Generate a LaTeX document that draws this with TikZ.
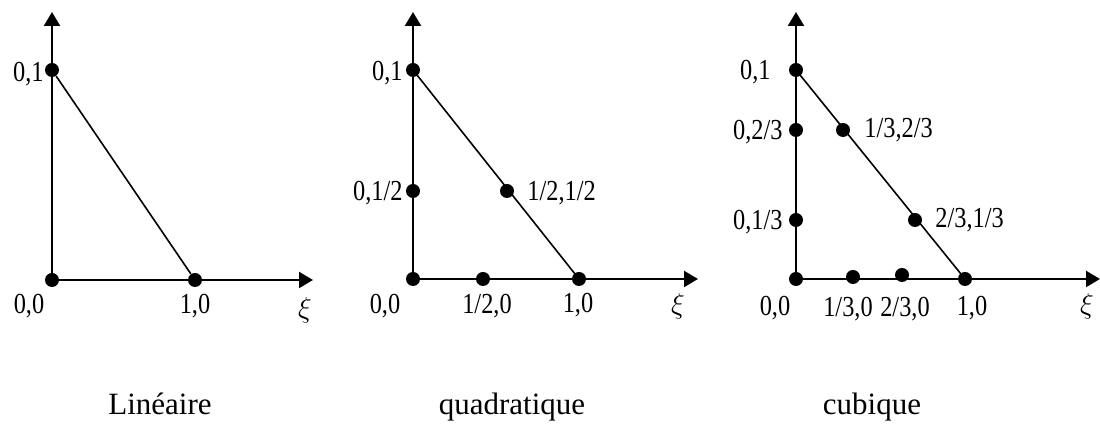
\documentclass[tikz,border=0pt]{standalone}
\usepackage{fontspec}
\setmainfont{Liberation Serif}
\newfontfamily\lblfont[FakeStretch=0.84]{Liberation Serif}
\usetikzlibrary{arrows.meta}
\begin{document}
\begin{tikzpicture}[x=0.5pt,y=-0.5pt,
  axis/.style={line width=1.1pt,-{Triangle[length=7pt,width=8pt]}},
  edge/.style={line width=0.8pt},
  dot/.style={circle,fill=black,inner sep=0pt,minimum size=7pt},
  lbl/.style={font=\lblfont\fontsize{14.5}{16}\selectfont,inner sep=0pt},
  title/.style={font=\fontsize{15.5}{18}\selectfont,inner sep=0pt,anchor=base}]
\useasboundingbox (0,0) rectangle (1100,426);
% ---------- Linear ----------
\node[dot] (a00) at (52,280) {};
\node[dot] (a01) at (52,70) {};
\node[dot] (a10) at (195,280) {};
\coordinate (ayt) at (52,12);
\coordinate (axt) at (313,280);
\draw[axis] (a00.center) -- (ayt);
\draw[axis] (a00.center) -- (axt);
\draw[edge] (a01) -- (a10);
\node[lbl,anchor=base east] (la01) at (44,82) {0,1};
\node[lbl,anchor=base] (la00) at (29,314) {0,0};
\node[lbl,anchor=base] (la10) at (195,314) {1,0};
\node[lbl] (laxi) at (305,310) {$\xi$};
% ---------- Quadratic ----------
\node[dot] (b00) at (413,279) {};
\node[dot] (b01) at (413,70) {};
\node[dot] (b0h) at (413,191) {};
\node[dot] (bhh) at (507,191) {};
\node[dot] (bh0) at (483,279) {};
\node[dot] (b10) at (579,279) {};
\coordinate (byt) at (413,12);
\coordinate (bxt) at (698,279);
\draw[axis] (b00.center) -- (byt);
\draw[axis] (b00.center) -- (bxt);
\draw[edge] (b01.center) -- (b10.center);
\node[lbl,anchor=base east] (lb01) at (403,81) {0,1};
\node[lbl,anchor=base east] (lb0h) at (403,201) {0,1/2};
\node[lbl,anchor=base west] (lbhh) at (527,201) {1/2,1/2};
\node[lbl,anchor=base] (lb00) at (385,314) {0,0};
\node[lbl,anchor=base] (lbh0) at (487,314) {1/2,0};
\node[lbl,anchor=base] (lb10) at (578,313) {1,0};
\node[lbl] (lbxi) at (678,306) {$\xi$};
% ---------- Cubic ----------
\node[dot] (c00) at (796,279) {};
\node[dot] (c01) at (796,70) {};
\node[dot] (c0b) at (796,130) {};
\node[dot] (c0a) at (796,220) {};
\node[dot] (cab) at (843,130) {};
\node[dot] (cba) at (915,220) {};
\node[dot] (ca0) at (853,277) {};
\node[dot] (cb0) at (902,275) {};
\node[dot] (c10) at (965,279) {};
\coordinate (cyt) at (796,12);
\coordinate (cxt) at (1100,279);
\draw[axis] (c00.center) -- (cyt);
\draw[axis] (c00.center) -- (cxt);
\draw[edge] (c01.center) -- (c10.center);
\node[lbl,anchor=base east] (lc01) at (771,80) {0,1};
\node[lbl,anchor=base east] (lc0b) at (783,140) {0,2/3};
\node[lbl,anchor=base east] (lc0a) at (783,230) {0,1/3};
\node[lbl,anchor=base west] (lcab) at (864,138) {1/3,2/3};
\node[lbl,anchor=base west] (lcba) at (935,228) {2/3,1/3};
\node[lbl,anchor=base] (lc00) at (775,316) {0,0};
\node[lbl,anchor=base] (lca0) at (848,317) {1/3,0};
\node[lbl,anchor=base] (lcb0) at (905,317) {2/3,0};
\node[lbl,anchor=base] (lc10) at (972,316) {1,0};
\node[lbl] (lcxi) at (1087,306) {$\xi$};
% ---------- Titles ----------
\node[title] (t1) at (160,415) {Linéaire};
\node[title] (t2) at (512,415) {quadratique};
\node[title] (t3) at (872,415) {cubique};
\end{tikzpicture}
\end{document}
